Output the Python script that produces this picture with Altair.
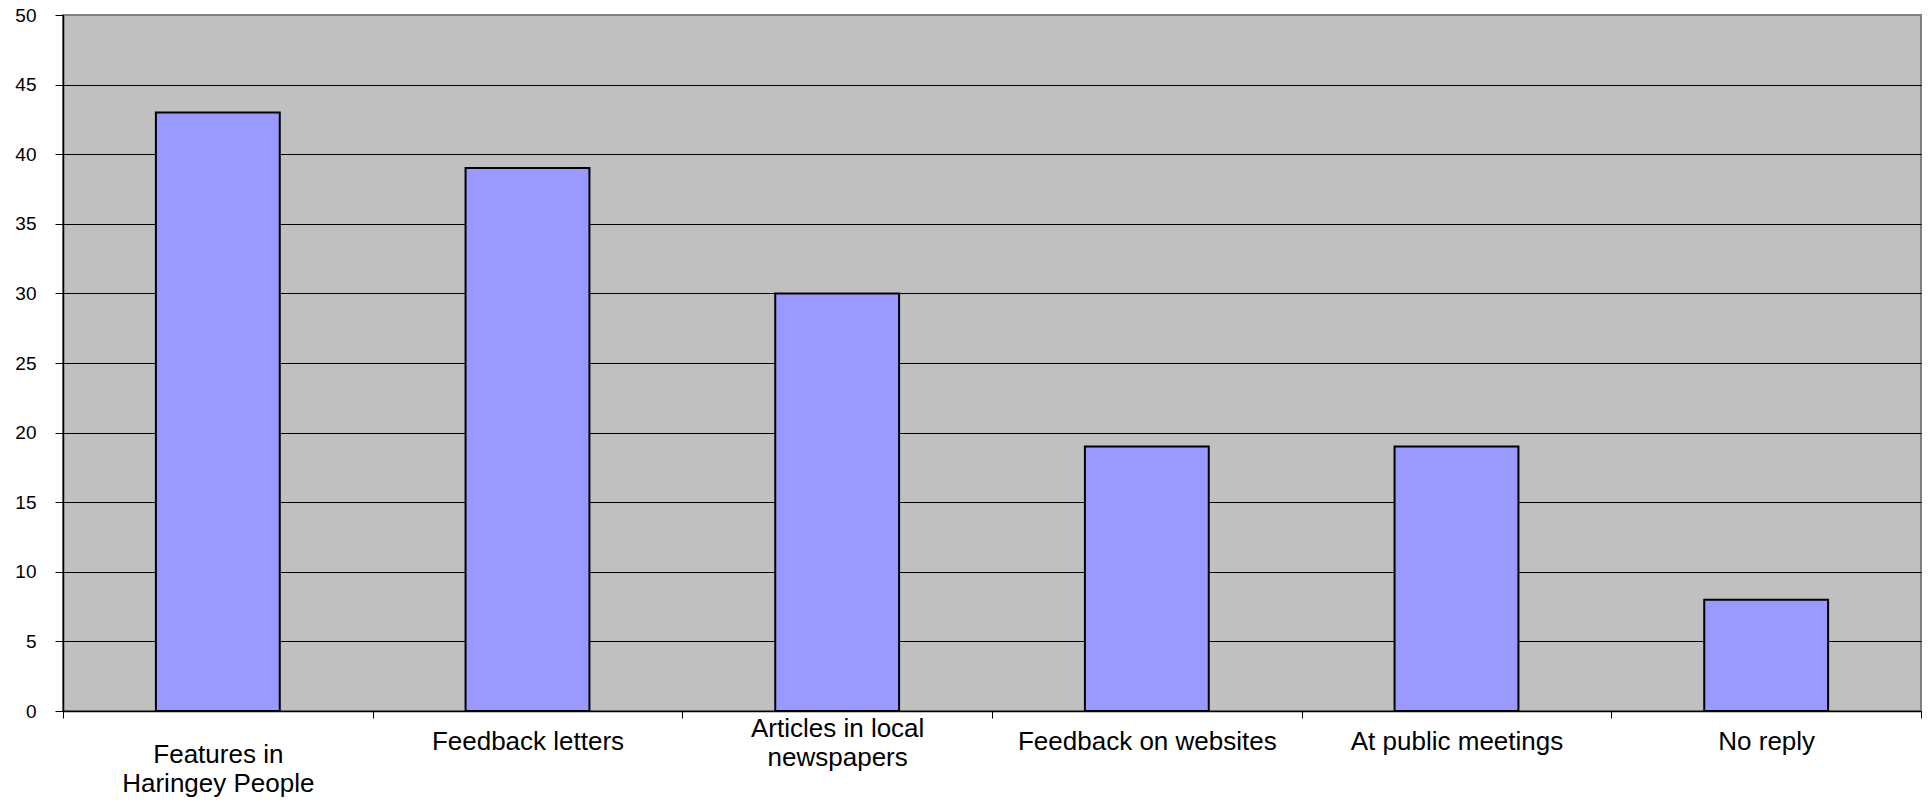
import altair as alt
import pandas as pd

# ---- data ----
categories = [
    "Features in Haringey People",
    "Feedback letters",
    "Articles in local newspapers",
    "Feedback on websites",
    "At public meetings",
    "No reply",
]
values = [43, 39, 30, 19, 19, 8]
label_lines = [
    ["Features in", "Haringey People"],
    ["Feedback letters"],
    ["Articles in local", "newspapers"],
    ["Feedback on websites"],
    ["At public meetings"],
    ["No reply"],
]
y_ticks = list(range(0, 51, 5))


def js_arr(a):
    return "[" + ",".join("'" + s.replace("'", "\\'") + "'" for s in a) + "]"


expr = "datum.label"
for i in reversed(range(len(categories))):
    expr = f"datum.value == '{categories[i]}' ? {js_arr(label_lines[i])} : ({expr})"

df = pd.DataFrame({"category": categories, "value": values})

FONT = "Liberation Sans"

chart = (
    alt.Chart(df)
    .mark_bar(
        width=alt.RelativeBandSize(0.4),
        color="#9999FF",
        stroke="black",
        strokeWidth=2,
    )
    .encode(
        x=alt.X(
            "category:N",
            sort=categories,
            scale=alt.Scale(paddingInner=0, paddingOuter=0),
            axis=alt.Axis(
                title=None,
                labelAngle=0,
                tickBand="extent",
                grid=False,
                labelExpr=expr,
                labelFont=FONT,
                labelFontSize=26,
                labelColor="black",
                labelLineHeight=29,
                labelBaseline={
                    "condition": [
                        {"test": f"datum.value == '{categories[0]}'", "value": "top"},
                        {"test": f"datum.value == '{categories[2]}'", "value": "bottom"},
                    ],
                    "value": "middle",
                },
                labelPadding=23,
                labelLimit=400,
                tickSize=7,
                tickColor="black",
                tickWidth=1,
                domainColor="black",
                domainWidth=1.5,
            ),
        ),
        y=alt.Y(
            "value:Q",
            scale=alt.Scale(domain=[0, 50]),
            axis=alt.Axis(
                title=None,
                values=y_ticks,
                grid=True,
                gridColor={"condition": {"test": "datum.value == 50", "value": "#808080"}, "value": "black"},
                gridWidth=1,
                labelFont=FONT,
                labelFontSize=19,
                labelColor="black",
                labelPadding=19,
                tickSize=8,
                tickColor="black",
                tickWidth=1,
                domainColor="black",
                domainWidth=1.5,
            ),
        ),
    )
    .properties(
        width=1858,
        height=696,
        autosize=alt.AutoSizeParams(type="none"),
        padding={"left": 55, "top": 7, "right": 1, "bottom": 89},
        background="white",
    )
    .configure_view(fill="#C0C0C0", stroke="#808080", strokeWidth=2)
)

chart.save("out.html", embed_options={"renderer": "svg", "actions": False})
